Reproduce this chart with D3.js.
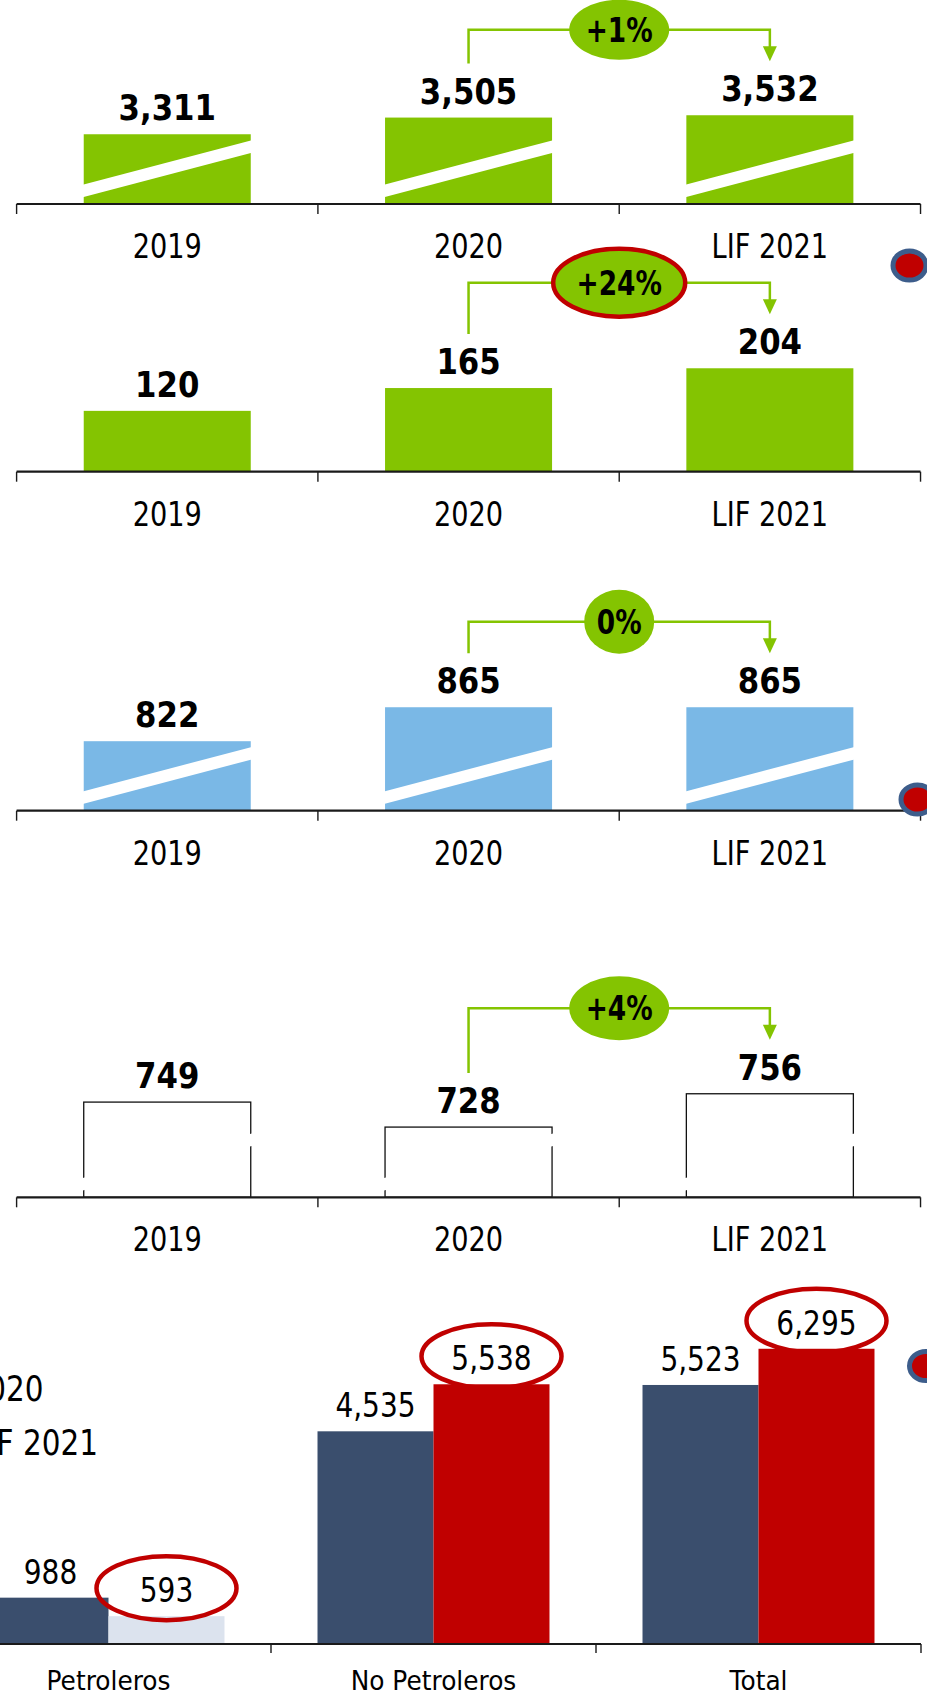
<!DOCTYPE html>
<html>
<head>
<meta charset="utf-8">
<script src="https://cdn.jsdelivr.net/npm/d3@7/dist/d3.min.js"></script>
<style>
  html, body { margin: 0; padding: 0; background: #fff; }
  svg { display: block; }
  text { font-family: "DejaVu Sans", Verdana, sans-serif; fill: #000; }
</style>
</head>
<body>
<svg id="chart" width="927" height="1702"></svg>
<script>
// ---------------- DATA ----------------
const years = ["2019", "2020", "LIF 2021"];
const panel1Values = [3311, 3505, 3532];
const panel2Values = [120, 165, 204];
const panel3Values = [822, 865, 865];
const panel4Values = [749, 728, 756];
const panelChanges = ["+1%", "+24%", "0%", "+4%"];

const groups = ["Petroleros", "No Petroleros", "Total"];
const seriesNames = ["2020", "LIF 2021"];
const values2020 = [988, 4535, 5523];
const valuesLIF2021 = [593, 5538, 6295];

// ---------------- STYLE / LAYOUT ----------------
const GREEN = "#84c401", BLUE = "#7ab8e6", NAVY = "#3a4e6d", RED = "#c00000", LIGHT = "#dce3ee";
const fmt = d3.format(",");

const svg = d3.select("#chart");

function label(g, x, y, str, size, weight, anchor, sx) {
  return g.append("text")
    .attr("transform", `translate(${x},${y}) scale(${sx || 0.8},1)`)
    .attr("text-anchor", anchor || "middle")
    .attr("font-size", size)
    .attr("font-weight", weight || "normal")
    .text(str);
}

const xBand = d3.scaleBand().domain(years).range([16.6, 920.5])
  .paddingInner(0.4457).paddingOuter(0.2228);

const panels = [
  { values: panel1Values, change: panelChanges[0], axisY: 204, domain: [2500, 3600], top: 109.4,
    fill: GREEN, outline: false, broken: true, pill: { rx: 50, ry: 30, ring: false } },
  { values: panel2Values, change: panelChanges[1], axisY: 471.7, domain: [0, 250], top: 344.95,
    fill: GREEN, outline: false, broken: false, pill: { rx: 66, ry: 34, ring: true } },
  { values: panel3Values, change: panelChanges[2], axisY: 810.7, domain: [734, 900], top: 679.6,
    fill: BLUE, outline: false, broken: true, pill: { rx: 35, ry: 32, ring: false } },
  { values: panel4Values, change: panelChanges[3], axisY: 1197.3, domain: [669, 780], top: 1065.2,
    fill: "#fff", outline: true, broken: true, pill: { rx: 50, ry: 32, ring: false } }
];

panels.forEach(p => {
  const g = svg.append("g");
  const y = d3.scaleLinear().domain(p.domain).range([p.axisY, p.top]);
  const bw = xBand.bandwidth();

  // bars
  g.selectAll("rect.bar").data(p.values).join("rect")
    .attr("class", "bar")
    .attr("x", (d, i) => xBand(years[i]))
    .attr("y", d => y(d))
    .attr("width", bw)
    .attr("height", d => p.axisY - y(d))
    .attr("fill", p.fill)
    .attr("stroke", p.outline ? "#111" : "none")
    .attr("stroke-width", p.outline ? 1.3 : 0);

  // axis break stripes
  if (p.broken) {
    g.selectAll("polygon.brk").data(p.values).join("polygon")
      .attr("class", "brk")
      .attr("points", (d, i) => {
        const x0 = xBand(years[i]) - 2, x1 = xBand(years[i]) + bw + 2;
        const a = p.axisY;
        return [[x0, a - 6.5], [x1, a - 51.5], [x1, a - 64], [x0, a - 19]].map(q => q.join(",")).join(" ");
      })
      .attr("fill", "#fff");
  }

  // axis line + ticks at category boundaries
  const r = xBand.range();
  g.append("line").attr("x1", r[0]).attr("x2", r[1]).attr("y1", p.axisY).attr("y2", p.axisY)
    .attr("stroke", "#1a1a1a").attr("stroke-width", 2.2);
  d3.range(years.length + 1).forEach(k => {
    const tx = r[0] + k * xBand.step();
    g.append("line").attr("x1", tx).attr("x2", tx).attr("y1", p.axisY).attr("y2", p.axisY + 10)
      .attr("stroke", "#1a1a1a").attr("stroke-width", 1.4);
  });

  // category labels
  years.forEach(c => label(g, xBand(c) + bw / 2, p.axisY + 54, c, 34, "normal", "middle", 0.8));

  // value labels
  p.values.forEach((v, i) => label(g, xBand(years[i]) + bw / 2, y(v) - 14, fmt(v), 35, "bold", "middle", 0.88));

  // change bracket 2020 -> LIF 2021
  const xa = xBand(years[1]) + bw / 2, xb = xBand(years[2]) + bw / 2;
  const ya = y(p.values[1]) - 54, yb = y(p.values[2]) - 54;
  const yTop = Math.min(y(p.values[1]), y(p.values[2])) - 85.5;
  g.append("path")
    .attr("d", `M${xa},${ya} V${yTop} H${xb} V${yb - 14}`)
    .attr("fill", "none").attr("stroke", GREEN).attr("stroke-width", 2.5);
  g.append("path")
    .attr("d", `M${xb - 7},${yb - 15} L${xb + 7},${yb - 15} L${xb},${yb} Z`)
    .attr("fill", GREEN);
  g.append("ellipse")
    .attr("cx", (xa + xb) / 2).attr("cy", yTop)
    .attr("rx", p.pill.rx).attr("ry", p.pill.ry)
    .attr("fill", GREEN)
    .attr("stroke", p.pill.ring ? RED : "none").attr("stroke-width", p.pill.ring ? 4.5 : 0);
  label(g, (xa + xb) / 2, yTop + 12, p.change, 33, "bold", "middle", 0.8);
});

// ---------------- BOTTOM GROUPED CHART ----------------
{
  const g = svg.append("g");
  const axisY = 1644;
  const x0 = d3.scaleBand().domain(groups).range([-54, 921]).paddingInner(0.2862).paddingOuter(0.1431);
  const x1 = d3.scaleBand().domain(seriesNames).range([0, x0.bandwidth()]);
  const y = d3.scaleLinear().domain([0, 7000]).range([axisY, axisY - 7000 * 0.0469]);

  const rows = groups.map((gname, i) => ({ group: gname, vals: [values2020[i], valuesLIF2021[i]] }));

  const gg = g.selectAll("g.grp").data(rows).join("g")
    .attr("class", "grp")
    .attr("transform", d => `translate(${x0(d.group)},0)`);

  gg.each(function (row, gi) {
    const sel = d3.select(this);
    row.vals.forEach((v, si) => {
      const color = si === 0 ? NAVY : (gi === 0 ? LIGHT : RED);
      sel.append("rect")
        .attr("x", x1(seriesNames[si]))
        .attr("y", y(v))
        .attr("width", x1.bandwidth())
        .attr("height", axisY - y(v))
        .attr("fill", color);
      const cx = x1(seriesNames[si]) + x1.bandwidth() / 2;
      const by = y(v) - 14;
      if (si === 1) {
        sel.append("ellipse").attr("cx", cx).attr("cy", by - 14)
          .attr("rx", 70).attr("ry", 32)
          .attr("fill", "none").attr("stroke", RED).attr("stroke-width", 4.5);
      }
      label(sel, cx, by, fmt(v), 33, "normal", "middle", 0.85);
    });
  });

  g.append("line").attr("x1", -54).attr("x2", 921).attr("y1", axisY).attr("y2", axisY)
    .attr("stroke", "#1a1a1a").attr("stroke-width", 2.2);
  d3.range(groups.length + 1).forEach(k => {
    const tx = -54 + k * x0.step();
    g.append("line").attr("x1", tx).attr("x2", tx).attr("y1", axisY).attr("y2", axisY + 9)
      .attr("stroke", "#1a1a1a").attr("stroke-width", 1.4);
  });

  groups.forEach(c => label(g, x0(c) + x0.bandwidth() / 2, axisY + 46, c, 27, "normal", "middle", 0.92));

  // legend text (markers lie outside the visible area)
  label(g, 43.5, 1401, seriesNames[0], 36, "normal", "end", 0.82);
  label(g, 98, 1455, seriesNames[1], 36, "normal", "end", 0.82);
}

// ---------------- decorative markers at right edge ----------------
const markers = [[909.5, 265.5], [917.5, 799.5], [926, 1366]];
svg.selectAll("ellipse.mk").data(markers).join("ellipse")
  .attr("class", "mk")
  .attr("cx", d => d[0]).attr("cy", d => d[1])
  .attr("rx", 16.5).attr("ry", 14.5)
  .attr("fill", RED).attr("stroke", "#3d5d8b").attr("stroke-width", 5);
</script>
</body>
</html>
